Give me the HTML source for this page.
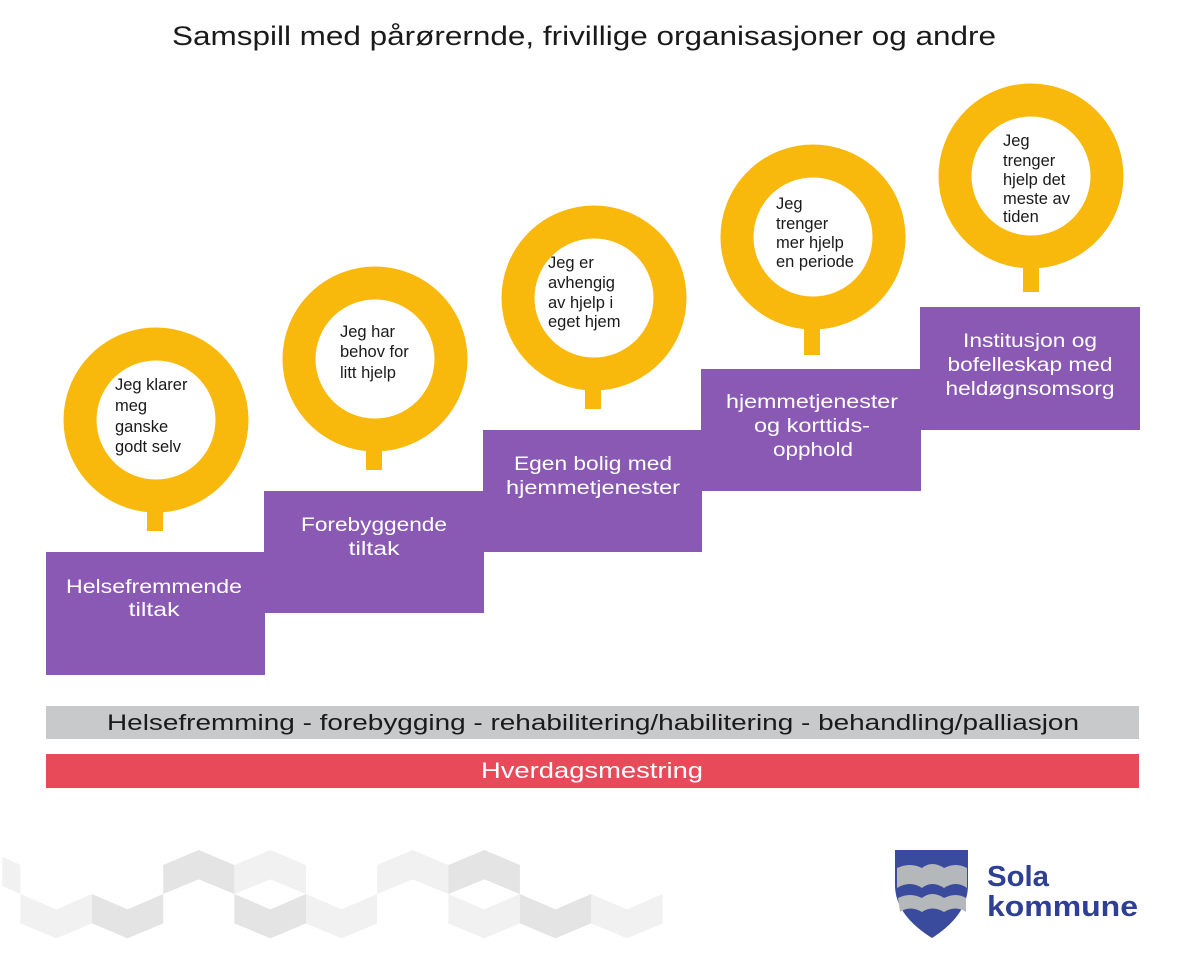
<!DOCTYPE html>
<html><head><meta charset="utf-8"><style>
body{margin:0;background:#fff;}
svg{display:block;}
text{font-family:"Liberation Sans",sans-serif;}
</style></head><body>
<svg width="1200" height="978" viewBox="0 0 1200 978">
<text x="584" y="45" font-size="27" text-anchor="middle" fill="#1a1a1a" textLength="824" lengthAdjust="spacingAndGlyphs">Samspill med pårørernde, frivillige organisasjoner og andre</text>

<g fill="#8a59b3">
<rect x="46" y="552" width="219" height="123"/>
<rect x="264" y="491" width="220" height="122"/>
<rect x="483" y="430" width="219" height="122"/>
<rect x="701" y="369" width="220" height="122"/>
<rect x="920" y="307" width="220" height="123"/>
</g>
<g fill="#fff" font-size="19" text-anchor="middle">
<text x="154" y="593" textLength="176" lengthAdjust="spacingAndGlyphs">Helsefremmende</text><text x="154" y="616" textLength="51" lengthAdjust="spacingAndGlyphs">tiltak</text>
<text x="374" y="531" textLength="146" lengthAdjust="spacingAndGlyphs">Forebyggende</text><text x="374" y="555" textLength="51" lengthAdjust="spacingAndGlyphs">tiltak</text>
<text x="593" y="470" textLength="158" lengthAdjust="spacingAndGlyphs">Egen bolig med</text><text x="593" y="494" textLength="174" lengthAdjust="spacingAndGlyphs">hjemmetjenester</text>
<text x="812" y="408" textLength="172" lengthAdjust="spacingAndGlyphs">hjemmetjenester</text><text x="812" y="432" textLength="116" lengthAdjust="spacingAndGlyphs">og korttids-</text><text x="813" y="456" textLength="80" lengthAdjust="spacingAndGlyphs">opphold</text>
<text x="1030" y="347" textLength="134" lengthAdjust="spacingAndGlyphs">Institusjon og</text><text x="1030" y="371" textLength="165" lengthAdjust="spacingAndGlyphs">bofelleskap med</text><text x="1030" y="395" textLength="169" lengthAdjust="spacingAndGlyphs">heldøgnsomsorg</text>
</g>

<g fill="none" stroke="#f9b80c" stroke-width="33">
<circle cx="156" cy="420" r="76"/>
<circle cx="375" cy="359" r="76"/>
<circle cx="594" cy="298" r="76"/>
<circle cx="813" cy="237" r="76"/>
<circle cx="1031" cy="176" r="76"/>
</g>
<g fill="#f9b80c">
<rect x="147" y="505" width="16" height="26"/>
<rect x="366" y="444" width="16" height="26"/>
<rect x="585" y="383" width="16" height="26"/>
<rect x="804" y="322" width="16" height="33"/>
<rect x="1023" y="262" width="16" height="30"/>
</g>
<g fill="#1a1a1a" font-size="16.5">
<text x="115" y="390">Jeg klarer</text><text x="115" y="411">meg</text><text x="115" y="432">ganske</text><text x="115" y="452">godt selv</text>
<text x="340" y="337">Jeg har</text><text x="340" y="357">behov for</text><text x="340" y="378">litt hjelp</text>
<text x="548" y="268">Jeg er</text><text x="548" y="288">avhengig</text><text x="548" y="308">av hjelp i</text><text x="548" y="327">eget hjem</text>
<text x="776" y="209">Jeg</text><text x="776" y="229">trenger</text><text x="776" y="248">mer hjelp</text><text x="776" y="267">en periode</text>
<text x="1003" y="146">Jeg</text><text x="1003" y="166">trenger</text><text x="1003" y="185">hjelp det</text><text x="1003" y="204">meste av</text><text x="1003" y="222">tiden</text>
</g>

<rect x="46" y="706" width="1093" height="33" fill="#c8c9cb"/>
<text x="593" y="730" font-size="22" text-anchor="middle" fill="#1a1a1a" textLength="972" lengthAdjust="spacingAndGlyphs">Helsefremming  - forebygging - rehabilitering/habilitering - behandling/palliasjon</text>
<rect x="46" y="754" width="1093" height="34" fill="#e84a5a"/>
<text x="592" y="778" font-size="22" text-anchor="middle" fill="#fff" textLength="222" lengthAdjust="spacingAndGlyphs">Hverdagsmestring</text>

<g transform="translate(0,840) scale(0.434,0.3333)">
<g fill="#f1f1f1">
<polygon points="5,50 47,75 47,162 5,138"/>
<polygon points="47,162 130,208 212,162 212,250 130,295 47,250"/>
<polygon points="540,75 623,30 705,75 705,162 623,118 540,162"/>
<polygon points="705,162 787,208 869,162 869,250 787,295 705,250"/>
<polygon points="869,75 951,30 1033,75 1033,162 951,118 869,162"/>
<polygon points="1033,162 1116,208 1198,162 1198,250 1116,295 1033,250"/>
<polygon points="1362,162 1445,208 1527,162 1527,250 1445,295 1362,250"/>
</g>
<g fill="#e4e4e4">
<polygon points="212,162 294,208 376,162 376,250 294,295 212,250"/>
<polygon points="376,75 458,30 540,75 540,162 458,118 376,162"/>
<polygon points="540,162 623,208 705,162 705,250 623,295 540,250"/>
<polygon points="1033,75 1116,30 1198,75 1198,162 1116,118 1033,162"/>
<polygon points="1198,162 1280,208 1362,162 1362,250 1280,295 1198,250"/>
</g>
</g>

<path d="M895,850 H968 V885 Q968,915 932,938 Q895,915 895,885 Z" fill="#3a4a9c"/>
<path d="M897,868 Q910,862 922,868 Q932,860 944,868 Q956,862 967,868 V888 Q956,880 944,888 Q932,880 922,888 Q910,880 897,888 Z" fill="#b5b8ba"/>
<path d="M898,898 Q910,892 922,898 Q932,890 944,898 Q956,892 966,898 V912 Q956,905 944,912 Q932,905 922,912 Q910,905 900,912 Z" fill="#b5b8ba"/>
<text x="987" y="886" font-size="29" font-weight="bold" fill="#2e3f94" textLength="62" lengthAdjust="spacingAndGlyphs">Sola</text>
<text x="987" y="916" font-size="29" font-weight="bold" fill="#2e3f94" textLength="151" lengthAdjust="spacingAndGlyphs">kommune</text>
</svg>
</body></html>
